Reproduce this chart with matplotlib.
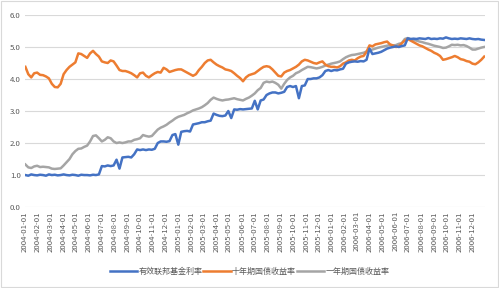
import matplotlib
matplotlib.use("Agg")
import matplotlib.pyplot as plt
import matplotlib.dates as mdates
from matplotlib.patches import Rectangle
import pandas as pd

plt.rcParams['font.family'] = ['Noto Sans CJK SC', 'DejaVu Sans']

# weekly readings (Fridays), 2004-01-02 .. 2006-12-29
dates = pd.date_range('2004-01-02', periods=157, freq='7D')

fed_funds = [
    # 2004
    1.00, 0.98, 1.02, 1.00, 0.99, 1.01, 1.00, 0.98, 1.02, 1.00, 1.01, 0.99, 1.00,
    1.02, 1.00, 0.99, 1.01, 1.00, 0.98, 1.01, 1.00, 1.00, 0.99, 1.01, 1.00, 1.02,
    1.28, 1.27, 1.30, 1.28, 1.30, 1.48, 1.20, 1.55, 1.56, 1.57, 1.55, 1.65, 1.80,
    1.78, 1.80, 1.78, 1.80, 1.79, 1.82, 2.00, 2.05, 2.05, 2.04, 2.06, 2.25, 2.28, 1.95,
    # 2005
    2.35, 2.37, 2.38, 2.36, 2.58, 2.60, 2.62, 2.65, 2.65, 2.68, 2.70, 2.92, 2.88,
    2.85, 2.84, 2.86, 3.00, 2.78, 3.05, 3.04, 3.06, 3.05, 3.06, 3.07, 3.08, 3.32,
    3.05, 3.33, 3.36, 3.50, 3.55, 3.58, 3.58, 3.55, 3.57, 3.60, 3.75, 3.78, 3.75,
    3.78, 3.40, 3.78, 3.80, 4.00, 4.00, 4.02, 4.02, 4.05, 4.12, 4.25, 4.28, 4.25,
    # 2006
    4.28, 4.27, 4.30, 4.32, 4.48, 4.52, 4.54, 4.55, 4.54, 4.56, 4.55, 4.60, 4.95,
    4.78, 4.80, 4.82, 4.85, 4.90, 4.95, 4.98, 5.00, 5.02, 5.00, 5.03, 5.05, 5.27,
    5.25, 5.26, 5.25, 5.27, 5.26, 5.25, 5.28, 5.25, 5.26, 5.25, 5.27, 5.26, 5.30,
    5.27, 5.25, 5.26, 5.25, 5.27, 5.26, 5.25, 5.27, 5.25, 5.24, 5.25, 5.23, 5.22,
]

treasury_10y = [
    # 2004
    4.38, 4.15, 4.05, 4.18, 4.20, 4.13, 4.12, 4.08, 4.02, 3.85, 3.75, 3.74, 3.85,
    4.15, 4.28, 4.38, 4.45, 4.52, 4.80, 4.78, 4.72, 4.66, 4.80, 4.88, 4.78, 4.70,
    4.55, 4.52, 4.50, 4.58, 4.55, 4.42, 4.28, 4.25, 4.25, 4.22, 4.18, 4.12, 4.05,
    4.18, 4.20, 4.10, 4.05, 4.12, 4.18, 4.22, 4.20, 4.35, 4.30, 4.22, 4.25, 4.28, 4.30,
    # 2005
    4.30, 4.25, 4.20, 4.15, 4.10, 4.15, 4.28, 4.38, 4.50, 4.58, 4.60, 4.52, 4.45,
    4.40, 4.36, 4.30, 4.28, 4.25, 4.18, 4.10, 4.03, 3.93, 4.05, 4.12, 4.15, 4.18,
    4.25, 4.32, 4.38, 4.40, 4.38, 4.30, 4.20, 4.10, 4.08, 4.20, 4.25, 4.28, 4.33,
    4.38, 4.45, 4.55, 4.60, 4.58, 4.54, 4.50, 4.48, 4.52, 4.55, 4.45, 4.40, 4.38,
    # 2006
    4.38, 4.36, 4.40, 4.48, 4.52, 4.58, 4.60, 4.58, 4.65, 4.70, 4.72, 4.85, 5.05,
    5.02, 5.08, 5.10, 5.12, 5.15, 5.17, 5.08, 5.05, 5.00, 5.02, 5.12, 5.20, 5.25,
    5.20, 5.15, 5.10, 5.05, 5.02, 4.97, 4.92, 4.88, 4.82, 4.78, 4.72, 4.60, 4.62,
    4.65, 4.68, 4.72, 4.68, 4.62, 4.60, 4.56, 4.54, 4.48, 4.46, 4.52, 4.60, 4.70,
]

treasury_1y = [
    # 2004
    1.33, 1.24, 1.22, 1.27, 1.29, 1.25, 1.26, 1.25, 1.24, 1.20, 1.19, 1.20, 1.21,
    1.30, 1.40, 1.50, 1.65, 1.75, 1.82, 1.83, 1.88, 1.92, 2.05, 2.22, 2.24, 2.15,
    2.05, 2.10, 2.18, 2.15, 2.05, 2.00, 2.02, 2.00, 2.02, 2.05, 2.05, 2.10, 2.12,
    2.15, 2.25, 2.22, 2.20, 2.22, 2.32, 2.42, 2.48, 2.52, 2.57, 2.64, 2.70, 2.77, 2.82,
    # 2005
    2.85, 2.88, 2.93, 2.97, 3.02, 3.05, 3.08, 3.12, 3.18, 3.25, 3.35, 3.42, 3.38,
    3.35, 3.33, 3.35, 3.36, 3.38, 3.40, 3.37, 3.35, 3.33, 3.38, 3.42, 3.48, 3.55,
    3.65, 3.72, 3.88, 3.92, 3.90, 3.92, 3.88, 3.82, 3.70, 3.85, 3.97, 4.05, 4.10,
    4.18, 4.22, 4.28, 4.33, 4.38, 4.37, 4.35, 4.33, 4.35, 4.38, 4.42, 4.45, 4.48,
    # 2006
    4.50, 4.52, 4.55, 4.62, 4.68, 4.72, 4.75, 4.76, 4.78, 4.80, 4.82, 4.86, 4.90,
    4.92, 4.95, 4.98, 5.00, 5.02, 5.04, 5.06, 5.05, 5.06, 5.10, 5.12, 5.25, 5.28,
    5.24, 5.22, 5.20, 5.17, 5.15, 5.12, 5.10, 5.07, 5.04, 5.02, 5.00, 4.97, 4.98,
    5.02, 5.07, 5.06, 5.07, 5.05, 5.06, 5.03, 4.98, 4.92, 4.92, 4.95, 4.98, 5.00,
]

labels = ['有效联邦基金利率', '十年期国债收益率', '一年期国债收益率']
colors = ['#4472C4', '#ED7D31', '#A5A5A5']

fig = plt.figure(figsize=(4.99, 2.88), dpi=100)
ax = fig.add_axes([0.050, 0.281, 0.922, 0.667])

# gray first, blue on top
ax.plot(dates, treasury_1y, color=colors[2], lw=1.8, label=labels[2], zorder=3)
ax.plot(dates, treasury_10y, color=colors[1], lw=1.8, label=labels[1], zorder=4)
ax.plot(dates, fed_funds, color=colors[0], lw=1.8, label=labels[0], zorder=5)

ax.set_ylim(0, 6)
ax.set_yticks([0, 1, 2, 3, 4, 5, 6])
ax.yaxis.set_major_formatter(plt.FuncFormatter(lambda v, p: f'{v:.1f}'))
ax.set_xlim(pd.Timestamp('2004-01-01'), pd.Timestamp('2006-12-31'))
ax.xaxis.set_major_locator(mdates.MonthLocator())
ax.xaxis.set_major_formatter(mdates.DateFormatter('%Y-%m-%d'))

ax.grid(axis='y', color='#D9D9D9', lw=0.8)
ax.set_axisbelow(True)
for s in ax.spines.values():
    s.set_visible(False)
ax.tick_params(length=0, labelsize=5.6, colors='#595959', pad=3)
for t in ax.get_xticklabels():
    t.set_rotation(90)

handles, hl = ax.get_legend_handles_labels()
order = [2, 1, 0]
fig.legend([handles[i] for i in order], [hl[i] for i in order],
           loc='center', bbox_to_anchor=(0.5, 0.058), ncol=3, frameon=False,
           fontsize=5.8, labelcolor='#595959', handlelength=3.4,
           handletextpad=0.15, columnspacing=0.1)

fig.patches.append(Rectangle((0.003, 0.004), 0.994, 0.992, transform=fig.transFigure,
                             fill=False, edgecolor='#D9D9D9', lw=0.8))

fig.savefig('out.png', dpi=100)
